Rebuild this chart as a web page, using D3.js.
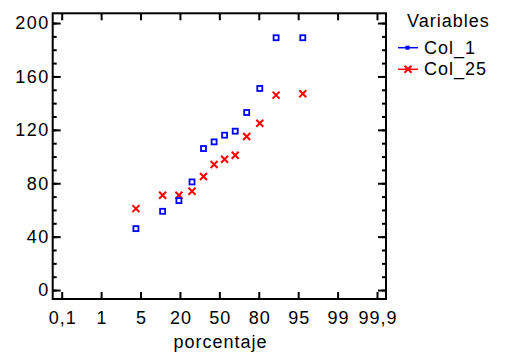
<!DOCTYPE html>
<html>
<head>
<meta charset="utf-8">
<script src="https://cdn.jsdelivr.net/npm/d3@7"></script>
<style>
  body { margin: 0; background: #fff; }
  text { font-family: "Liberation Sans", Arial, sans-serif; fill: #000; font-size: 18px; letter-spacing: 1px; }
  .axis path.domain { display: none; }
  .axis line { stroke: #000; stroke-width: 2; }
</style>
</head>
<body>
<svg id="chart" width="505" height="356"></svg>
<script>
// plotting positions (percent) of the sorted observations
var percentiles = [5.1, 13.3, 21.4, 29.6, 37.8, 45.9, 54.1, 62.2, 70.4, 78.6, 86.7, 94.9];
var col1 = [46, 59, 67, 81, 106, 111, 116, 119, 133, 151, 189, 189];
var col25 = [61, 71, 71, 74, 85, 94, 98, 101, 115, 125, 146, 147];
var seriesNames = ["Col_1", "Col_25"];
var seriesColors = ["#0000ff", "#ff0000"];
var xTickLabels = ["0,1", "1", "5", "20", "50", "80", "95", "99", "99,9"];
var yMajor = [0, 40, 80, 120, 160, 200];
var yMinor = d3.range(0, 201, 10);

// inverse normal cdf (Acklam)
function probit(p) {
  var a = [-3.969683028665376e+01, 2.209460984245205e+02, -2.759285104469687e+02, 1.383577518672690e+02, -3.066479806614716e+01, 2.506628277459239e+00];
  var b = [-5.447609879822406e+01, 1.615858368580409e+02, -1.556989798598866e+02, 6.680131188771972e+01, -1.328068155288572e+01];
  var c = [-7.784894002430293e-03, -3.223964580411365e-01, -2.400758277161838e+00, -2.549732539343734e+00, 4.374664141464968e+00, 2.938163982698783e+00];
  var d = [7.784695709041462e-03, 3.224671290700398e-01, 2.445134137142996e+00, 3.754408661907416e+00];
  var plow = 0.02425, q, r;
  if (p < plow) {
    q = Math.sqrt(-2 * Math.log(p));
    return (((((c[0]*q+c[1])*q+c[2])*q+c[3])*q+c[4])*q+c[5]) / ((((d[0]*q+d[1])*q+d[2])*q+d[3])*q+1);
  }
  if (p > 1 - plow) {
    q = Math.sqrt(-2 * Math.log(1 - p));
    return -(((((c[0]*q+c[1])*q+c[2])*q+c[3])*q+c[4])*q+c[5]) / ((((d[0]*q+d[1])*q+d[2])*q+d[3])*q+1);
  }
  q = p - 0.5; r = q * q;
  return (((((a[0]*r+a[1])*r+a[2])*r+a[3])*r+a[4])*r+a[5])*q / (((((b[0]*r+b[1])*r+b[2])*r+b[3])*r+b[4])*r+1);
}

var frame = {left: 52.7, right: 386, top: 13.3, bottom: 299};

var xZ = d3.scaleLinear().domain([-3.09, 3.09]).range([61.7, 377]);
var xTicks = d3.scalePoint().domain(xTickLabels).range([61.7, 377]);
var y = d3.scaleLinear().domain([-6.7, 207.3]).range([frame.bottom, frame.top]);

var svg = d3.select("#chart");

// axes (ticks point inward)
svg.append("g").attr("class", "axis").attr("transform", "translate(0," + frame.bottom + ")")
  .call(d3.axisBottom(xTicks).tickSize(-7).tickPadding(12.5))
  .selectAll("text").attr("dx", "0.5px");
svg.append("g").attr("class", "axis").attr("transform", "translate(0," + frame.top + ")")
  .call(d3.axisTop(xTicks).tickSize(-7).tickFormat(""));

svg.append("g").attr("class", "axis").attr("transform", "translate(" + frame.left + ",0)")
  .call(d3.axisLeft(y).tickValues(yMinor).tickSize(-4).tickFormat(""));
svg.append("g").attr("class", "axis").attr("transform", "translate(" + frame.left + ",0)")
  .call(d3.axisLeft(y).tickValues(yMajor).tickSize(-8).tickPadding(3))
  .selectAll("text").style("letter-spacing", "1.5px");
svg.append("g").attr("class", "axis").attr("transform", "translate(" + frame.right + ",0)")
  .call(d3.axisRight(y).tickValues(yMinor).tickSize(-4).tickFormat(""));
svg.append("g").attr("class", "axis").attr("transform", "translate(" + frame.right + ",0)")
  .call(d3.axisRight(y).tickValues(yMajor).tickSize(-8).tickFormat(""));

svg.append("rect")
  .attr("x", frame.left).attr("y", frame.top)
  .attr("width", frame.right - frame.left).attr("height", frame.bottom - frame.top)
  .attr("fill", "none").attr("stroke", "#000").attr("stroke-width", 2);

svg.append("text").attr("x", 220.5).attr("y", 348).attr("text-anchor", "middle").text("porcentaje");

// markers
function square(g, cx, cy, color) {
  g.append("rect").attr("x", cx - 2.5).attr("y", cy - 2.5).attr("width", 5).attr("height", 5)
    .attr("fill", "#fff").attr("stroke", color).attr("stroke-width", 1.8);
}
function cross(g, cx, cy, color) {
  g.append("path").attr("d", "M" + (cx - 3.5) + "," + (cy - 3.5) + "L" + (cx + 3.5) + "," + (cy + 3.5) +
    "M" + (cx - 3.5) + "," + (cy + 3.5) + "L" + (cx + 3.5) + "," + (cy - 3.5))
    .attr("stroke", color).attr("stroke-width", 2).attr("fill", "none");
}

var pts = svg.append("g");
col25.forEach(function (v, i) {
  cross(pts, xZ(probit(percentiles[i] / 100)), y(v), seriesColors[1]);
});
col1.forEach(function (v, i) {
  square(pts, xZ(probit(percentiles[i] / 100)), y(v), seriesColors[0]);
});

// legend
var lg = svg.append("g");
lg.append("text").attr("x", 407).attr("y", 27).text("Variables");
seriesNames.forEach(function (name, i) {
  var ly = 47.7 + i * 21.6;
  lg.append("line").attr("x1", 398).attr("x2", 418).attr("y1", ly).attr("y2", ly)
    .attr("stroke", seriesColors[i]).attr("stroke-width", 1.5);
  if (i === 0) {
    lg.append("rect").attr("x", 405.5).attr("y", ly - 2).attr("width", 4).attr("height", 4)
      .attr("fill", seriesColors[i]);
  } else {
    cross(lg, 408, ly, seriesColors[i]);
  }
  lg.append("text").attr("x", 424).attr("y", ly + 6).text(name);
});
</script>
</body>
</html>
